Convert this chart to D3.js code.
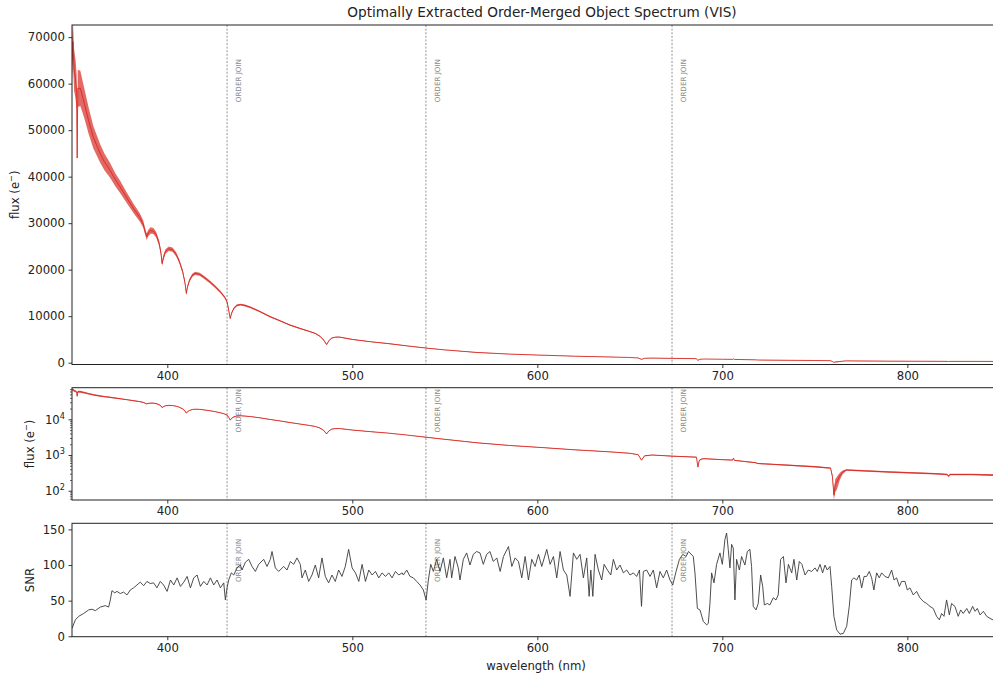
<!DOCTYPE html>
<html>
<head>
<meta charset="utf-8">
<script src="https://cdn.jsdelivr.net/npm/d3@7"></script>
<style>
  html, body { margin: 0; padding: 0; background: #fff; }
  svg text { font-family: "DejaVu Sans", sans-serif; }
</style>
</head>
<body>
<svg id="chart" width="993" height="679"></svg>
<script>
// Optimally extracted, order-merged VIS spectrum: flux (linear + log) and SNR.

// Wavelength grid of the flux spectrum (nm)
const wavelength = [
  348.5, 349.0, 349.6, 350.4, 351.0, 351.3, 351.6, 353.0, 355.0, 357.5,
  360.0, 363.6, 366.0, 369.0, 372.0, 374.5, 378.8, 382.0, 385.2, 387.0,
  388.0, 388.9, 389.7, 391.0, 392.5, 394.0, 395.5, 396.5, 397.2, 397.9,
  399.0, 400.8, 402.8, 404.8, 406.5, 408.3, 409.5, 410.3, 410.9, 412.0,
  413.5, 415.0, 417.5, 420.0, 423.0, 426.0, 428.5, 431.0, 432.3, 433.2,
  434.0, 434.8, 436.0, 437.5, 439.5, 442.0, 445.0, 450.0, 455.6, 461.0,
  466.3, 471.5, 477.0, 480.0, 482.5, 484.5, 486.1, 487.3, 488.8, 491.0,
  493.2, 500.0, 510.0, 519.6, 530.0, 539.8, 550.0, 567.4, 585.0, 600.0,
  620.0, 638.7, 650.0, 654.5, 656.3, 658.0, 662.0, 672.8, 686.0, 686.8,
  687.5, 688.5, 690.0, 700.0, 705.5, 706.0, 706.5, 718.0, 719.0, 735.0,
  750.0, 758.5, 759.5, 760.3, 761.0, 762.0, 763.5, 765.0, 767.0, 790.0,
  815.0, 821.5, 822.3, 823.0, 835.0, 847.0
];
// Extracted flux (e-)
const flux = [
  65000, 69000, 63000, 61000, 58000, 44000, 59000, 59000, 56000, 52000,
  48500, 45100, 43200, 41400, 39300, 37800, 35000, 33000, 31200, 29800,
  28200, 27100, 27900, 28400, 28300, 27500, 25800, 23800, 21300, 22600,
  23900, 24500, 24300, 23300, 21800, 19600, 17300, 14900, 16300, 17700,
  18800, 19200, 19000, 18300, 17400, 16300, 15300, 14100, 13100, 11300,
  9500, 10700, 11700, 12300, 12500, 12300, 11900, 11000, 9900, 9000,
  8100, 7400, 6700, 6300, 5700, 4900, 3900, 4700, 5300, 5500,
  5500, 5000, 4500, 4100, 3600, 3150, 2750, 2200, 1850, 1650,
  1400, 1230, 1120, 1020, 720, 950, 1000, 930, 870, 460,
  700, 760, 790, 740, 720, 820, 710, 610, 580, 520,
  470, 430, 250, 75, 150, 180, 260, 330, 380, 335,
  300, 285, 255, 285, 285, 274
];
// Flux uncertainty (e-), drawn as the noise envelope
const fluxErr = [
  4500, 4500, 4500, 4200, 4000, 0, 4000, 3800, 3200, 2800,
  2400, 2000, 1800, 1600, 1400, 1300, 1100, 1000, 900, 800,
  700, 700, 700, 700, 650, 600, 600, 550, 500, 500,
  500, 500, 450, 450, 400, 400, 380, 350, 350, 350,
  350, 350, 330, 320, 300, 280, 260, 250, 240, 220,
  200, 200, 200, 200, 200, 190, 180, 170, 160, 150,
  140, 130, 120, 110, 100, 100, 100, 100, 90, 90,
  90, 80, 70, 60, 50, 45, 40, 35, 30, 30,
  25, 25, 20, 20, 20, 20, 20, 20, 20, 20,
  20, 20, 20, 20, 20, 20, 20, 20, 20, 20,
  20, 20, 30, 20, 60, 70, 60, 40, 20, 15,
  15, 15, 15, 15, 15, 15
];

// Wavelength grid of the SNR curve (nm)
const snrWave = [
  348.5, 350.3, 352.1, 354.8, 357.5, 359.3, 361.1, 363.8, 366.5, 368.3,
  369.2, 370.1, 371.6, 372.8, 374.6, 376.4, 378.2, 380.0, 381.8, 383.6,
  385.4, 387.2, 389.0, 390.8, 392.6, 394.4, 396.2, 398.0, 399.9, 401.7,
  403.5, 405.3, 407.1, 408.9, 410.7, 412.5, 414.3, 416.1, 417.9, 419.7,
  421.5, 423.3, 425.1, 426.9, 428.7, 430.5, 431.4, 432.3, 433.2, 434.6,
  435.9, 437.7, 439.5, 440.4, 442.2, 444.0, 445.8, 447.6, 449.4, 452.1,
  453.9, 455.7, 456.6, 458.4, 460.2, 462.9, 464.7, 466.5, 468.3, 470.1,
  471.9, 472.8, 474.6, 476.4, 478.2, 480.0, 481.8, 483.6, 485.4, 487.2,
  489.0, 490.8, 492.6, 494.4, 496.2, 498.0, 499.9, 501.7, 503.5, 505.3,
  507.1, 508.9, 510.7, 512.5, 514.3, 516.1, 517.9, 519.7, 521.5, 523.3,
  525.1, 526.9, 527.6, 529.4, 531.2, 533.0, 534.8, 536.6, 538.4, 539.9,
  541.1, 542.4, 543.8, 545.6, 547.4, 549.2, 551.0, 552.8, 553.7, 555.5,
  557.3, 558.2, 560.0, 561.8, 563.6, 565.4, 567.2, 569.0, 570.8, 572.6,
  574.4, 576.2, 578.1, 579.9, 581.7, 584.4, 586.2, 588.0, 589.8, 591.6,
  593.4, 595.2, 597.0, 598.8, 600.6, 602.4, 605.1, 606.9, 608.7, 610.5,
  612.3, 614.1, 615.9, 617.7, 619.5, 621.3, 623.1, 624.9, 626.7, 628.0,
  628.9, 630.0, 631.2, 633.0, 634.8, 636.1, 637.9, 639.7, 641.1, 642.9,
  644.7, 646.5, 648.3, 650.1, 651.9, 653.7, 655.2, 656.3, 657.3, 659.1,
  660.9, 662.7, 664.5, 666.3, 668.1, 669.9, 671.7, 673.2, 675.0, 676.8,
  678.6, 680.4, 681.7, 682.5, 684.3, 685.2, 686.5, 687.9, 689.7, 691.5,
  692.4, 693.3, 694.2, 695.5, 696.9, 698.7, 700.0, 701.4, 702.3, 703.2,
  704.1, 705.0, 705.9, 706.8, 707.7, 709.2, 710.4, 712.2, 713.5, 714.9,
  715.8, 716.7, 718.2, 719.4, 720.7, 721.8, 722.7, 724.3, 725.7, 727.5,
  729.0, 730.2, 731.5, 733.0, 734.4, 735.7, 737.5, 738.7, 740.2, 741.6,
  743.0, 744.7, 746.5, 748.3, 750.1, 751.3, 752.8, 754.2, 755.5, 756.7,
  758.2, 759.1, 760.3, 761.8, 763.6, 765.4, 767.2, 768.6, 769.9, 771.1,
  772.6, 774.0, 775.3, 776.6, 778.0, 779.4, 780.7, 781.9, 783.4, 784.8,
  786.1, 787.9, 789.7, 791.5, 792.8, 794.2, 795.7, 796.9, 798.7, 800.0,
  801.4, 803.2, 805.0, 806.8, 808.6, 810.4, 812.2, 814.0, 815.8, 817.3,
  818.5, 819.8, 821.2, 822.7, 823.9, 825.7, 827.5, 828.8, 830.2, 832.1,
  833.5, 835.3, 836.6, 837.8, 839.3, 841.1, 842.9, 844.7, 846.3, 848.0
];
// Signal-to-noise ratio per wavelength bin
const snr = [
  11, 23, 28, 32, 37, 38, 36, 41, 43, 41,
  51, 64, 61, 63, 60, 62, 58, 65, 68, 72,
  76, 71, 77, 74, 75, 68, 77, 72, 63, 79,
  72, 82, 70, 76, 84, 68, 82, 86, 70, 77,
  72, 82, 72, 79, 68, 75, 51, 68, 79, 89,
  86, 96, 100, 93, 104, 108, 98, 91, 101, 108,
  98, 108, 119, 96, 91, 98, 93, 105, 101, 110,
  101, 82, 93, 77, 86, 100, 82, 110, 84, 75,
  86, 77, 93, 84, 98, 122, 96, 89, 77, 101,
  77, 93, 86, 91, 82, 89, 84, 89, 82, 91,
  86, 89, 86, 93, 84, 82, 77, 72, 65, 51,
  79, 101, 91, 108, 91, 110, 82, 108, 82, 112,
  96, 79, 108, 117, 100, 115, 119, 117, 101, 115,
  119, 105, 110, 91, 112, 126, 98, 110, 105, 82,
  112, 79, 108, 98, 115, 98, 122, 101, 112, 82,
  119, 93, 86, 56, 117, 108, 115, 82, 110, 56,
  93, 56, 115, 93, 79, 101, 93, 86, 108, 93,
  100, 89, 93, 86, 89, 84, 93, 42, 91, 93,
  84, 93, 68, 91, 82, 93, 79, 72, 91, 108,
  115, 112, 119, 117, 112, 89, 39, 37, 21, 16,
  18, 46, 89, 75, 101, 117, 101, 136, 145, 122,
  96, 129, 124, 51, 108, 93, 112, 100, 119, 122,
  98, 42, 37, 46, 86, 70, 44, 46, 44, 54,
  51, 58, 108, 112, 75, 101, 89, 108, 79, 105,
  101, 86, 93, 91, 96, 91, 101, 89, 100, 93,
  98, 70, 28, 9, 3, 4, 14, 42, 79, 82,
  79, 86, 68, 84, 84, 91, 82, 65, 89, 82,
  89, 84, 82, 93, 79, 82, 70, 77, 77, 65,
  68, 58, 63, 54, 49, 46, 42, 39, 28, 23,
  32, 28, 51, 30, 46, 42, 28, 37, 32, 39,
  32, 42, 35, 39, 30, 35, 28, 25, 23, 22
];

// Wavelengths where neighbouring echelle orders were stitched together (nm)
const orderJoins = [432.3, 539.8, 672.8];

// Tick values
const waveTicks = [400, 500, 600, 700, 800];
const fluxTicks = [0, 10000, 20000, 30000, 40000, 50000, 60000, 70000];
const logMajorTicks = [100, 1000, 10000];
const snrTicks = [0, 50, 100, 150];

const svg = d3.select("#chart");
const FONT = 11.7;
const left = 72, right = 1013;

const panels = {
  lin: { top: 25, bottom: 364.5 },
  log: { top: 387.7, bottom: 500 },
  snr: { top: 523.3, bottom: 636.7 }
};

const x = d3.scaleLinear().domain([348.49, 857.1]).range([left, right]);
const yLin = d3.scaleLinear().domain([-387, 72610]).range([panels.lin.bottom, panels.lin.top]);
const yLog = d3.scaleLog().domain([55, 76700]).range([panels.log.bottom, panels.log.top]);
const ySnr = d3.scaleLinear().domain([-0.6, 158.6]).range([panels.snr.bottom, panels.snr.top]);

const fluxRows = wavelength.map((w, i) => ({ w, f: flux[i], e: fluxErr[i] }));
const snrRows = snrWave.map((w, i) => ({ w, s: snr[i] }));

const RED = "#d62a22";

// clip paths for each panel
const defs = svg.append("defs");
Object.entries(panels).forEach(([k, p]) => {
  defs.append("clipPath").attr("id", "clip-" + k)
    .append("rect").attr("x", left).attr("y", p.top)
    .attr("width", right - left).attr("height", p.bottom - p.top);
});

function styleAxis(g) {
  g.select(".domain").remove();
  g.selectAll(".tick line").attr("stroke", "#222").attr("stroke-width", 0.9);
  g.selectAll(".tick text").attr("fill", "#222").attr("font-size", FONT)
    .attr("font-family", "DejaVu Sans, sans-serif");
}

function drawOrderJoins(p, labelTop) {
  const g = svg.append("g");
  orderJoins.forEach(w => {
    g.append("line")
      .attr("x1", x(w)).attr("x2", x(w))
      .attr("y1", p.top).attr("y2", p.bottom)
      .attr("stroke", "#777").attr("stroke-width", 0.8)
      .attr("stroke-dasharray", "2,1.6");
    const tx = x(w) + 12, ty = labelTop;
    g.append("text")
      .attr("transform", `translate(${tx},${ty}) rotate(-90)`)
      .attr("text-anchor", "end")
      .attr("dominant-baseline", "middle")
      .attr("font-size", 7.2)
      .attr("fill", "#8a8a8a")
      .text("ORDER JOIN");
  });
}

function frame(p) {
  svg.append("rect")
    .attr("x", left).attr("y", p.top)
    .attr("width", right - left).attr("height", p.bottom - p.top)
    .attr("fill", "none").attr("stroke", "#222").attr("stroke-width", 1);
}

function xAxis(p) {
  svg.append("g")
    .attr("transform", `translate(0,${p.bottom})`)
    .call(d3.axisBottom(x).tickValues(waveTicks).tickSize(3.5).tickPadding(3.5).tickFormat(d3.format("d")))
    .call(styleAxis);
}

function fluxLabel(cx, cy) {
  const lab = svg.append("text")
    .attr("transform", `translate(${cx},${cy}) rotate(-90)`)
    .attr("text-anchor", "middle").attr("font-size", FONT).attr("fill", "#222");
  lab.append("tspan").text("flux (e");
  lab.append("tspan").attr("baseline-shift", "super").attr("font-size", FONT * 0.7).text("\u2212");
  lab.append("tspan").text(")");
}

// ---------- Panel 1: linear flux ----------
{
  const p = panels.lin;
  drawOrderJoins(p, p.top + 34);
  const g = svg.append("g").attr("clip-path", "url(#clip-lin)");
  g.append("path").datum(fluxRows)
    .attr("d", d3.area().x(d => x(d.w)).y0(d => yLin(d.f - d.e)).y1(d => yLin(d.f + d.e)))
    .attr("fill", RED).attr("fill-opacity", 0.7).attr("stroke", "none");
  g.append("path").datum(fluxRows)
    .attr("d", d3.line().x(d => x(d.w)).y(d => yLin(d.f)))
    .attr("fill", "none").attr("stroke", RED).attr("stroke-width", 0.9);
  frame(p);
  svg.append("g").attr("transform", `translate(${left},0)`)
    .call(d3.axisLeft(yLin).tickValues(fluxTicks).tickSize(3.5).tickPadding(3.5).tickFormat(d3.format("d")))
    .call(styleAxis);
  xAxis(p);
  fluxLabel(19, (p.top + p.bottom) / 2);
}

// ---------- Panel 2: log flux ----------
{
  const p = panels.log;
  drawOrderJoins(p, p.top + 1.5);
  const g = svg.append("g").attr("clip-path", "url(#clip-log)");
  g.append("path").datum(fluxRows)
    .attr("d", d3.area().x(d => x(d.w))
      .y0(d => yLog(Math.max(d.f - d.e, 1))).y1(d => yLog(d.f + d.e)))
    .attr("fill", RED).attr("fill-opacity", 0.7).attr("stroke", "none");
  g.append("path").datum(fluxRows)
    .attr("d", d3.line().x(d => x(d.w)).y(d => yLog(d.f)))
    .attr("fill", "none").attr("stroke", RED).attr("stroke-width", 0.9);
  frame(p);
  // minor ticks
  const minor = yLog.ticks().filter(v => logMajorTicks.indexOf(v) < 0);
  svg.append("g").attr("transform", `translate(${left},0)`)
    .call(d3.axisLeft(yLog).tickValues(minor).tickSize(2).tickFormat(""))
    .call(styleAxis)
    .selectAll(".tick line").attr("stroke-width", 0.7);
  // major ticks with power-of-ten labels
  const ax = svg.append("g").attr("transform", `translate(${left},0)`)
    .call(d3.axisLeft(yLog).tickValues(logMajorTicks).tickSize(3.5).tickPadding(3.5).tickFormat(""))
    .call(styleAxis);
  ax.selectAll(".tick text").each(function (d) {
    const t = d3.select(this);
    t.text(null);
    t.append("tspan").text("10");
    t.append("tspan").attr("baseline-shift", "super").attr("font-size", FONT * 0.7)
      .text(String(Math.round(Math.log10(d))));
  });
  xAxis(p);
  fluxLabel(34, (p.top + p.bottom) / 2);
}

// ---------- Panel 3: SNR ----------
{
  const p = panels.snr;
  drawOrderJoins(p, p.top + 15.5);
  const g = svg.append("g").attr("clip-path", "url(#clip-snr)");
  g.append("path").datum(snrRows)
    .attr("d", d3.line().x(d => x(d.w)).y(d => ySnr(d.s)))
    .attr("fill", "none").attr("stroke", "#3a3a3a").attr("stroke-width", 0.9);
  frame(p);
  svg.append("g").attr("transform", `translate(${left},0)`)
    .call(d3.axisLeft(ySnr).tickValues(snrTicks).tickSize(3.5).tickPadding(3.5).tickFormat(d3.format("d")))
    .call(styleAxis);
  xAxis(p);
  svg.append("text")
    .attr("transform", `translate(34,${(p.top + p.bottom) / 2}) rotate(-90)`)
    .attr("text-anchor", "middle").attr("font-size", FONT).attr("fill", "#222")
    .text("SNR");
  svg.append("text")
    .attr("x", 536).attr("y", 670)
    .attr("text-anchor", "middle").attr("font-size", FONT).attr("fill", "#222")
    .text("wavelength (nm)");
}

// Title
svg.append("text")
  .attr("x", 542).attr("y", 17)
  .attr("text-anchor", "middle").attr("font-size", 13.6).attr("fill", "#222")
  .text("Optimally Extracted Order-Merged Object Spectrum (VIS)");
</script>
</body>
</html>
